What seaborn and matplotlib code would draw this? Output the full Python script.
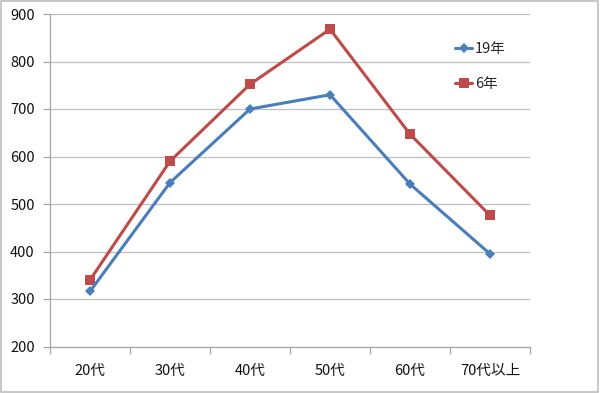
import matplotlib
matplotlib.use("Agg")
import matplotlib.pyplot as plt
import seaborn as sns
import pandas as pd
from matplotlib.lines import Line2D
from matplotlib.patches import Rectangle
from matplotlib.ticker import FixedLocator

categories = ["20代", "30代", "40代", "50代", "60代", "70代以上"]
series_19 = [316, 545, 700, 730, 542, 395]
series_6 = [340, 590, 752, 868, 647, 476]
series_names = ["19年", "6年"]
yticks = [200, 300, 400, 500, 600, 700, 800, 900]

sns.set_theme(style="white")
plt.rcParams['font.family'] = ['Noto Sans CJK JP', 'DejaVu Sans']

df = pd.DataFrame({
    "cat": categories * 2,
    "value": series_19 + series_6,
    "series": [series_names[0]] * len(categories) + [series_names[1]] * len(categories),
})

blue = "#4A7EBB"
red = "#BE4B48"
palette = {series_names[0]: blue, series_names[1]: red}

fig = plt.figure(figsize=(6.0, 3.93), dpi=100)
ax = fig.add_axes([50/600, 1 - 346.5/393, 480/600, (346.5-14)/393])

for name, marker, ms in [(series_names[1], "s", 7.5), (series_names[0], "D", 5.5)]:
    sub = df[df["series"] == name]
    sns.lineplot(data=sub, x="cat", y="value", color=palette[name], marker=marker,
                 markersize=ms, markeredgewidth=0, linewidth=2.2, ax=ax,
                 sort=False, legend=False)

ax.set_xlim(-0.5, len(categories) - 0.5)
ax.set_ylim(200, 900)
ax.set_yticks(yticks)
ax.set_xticks(range(len(categories)))
ax.set_xticklabels(categories)
ax.xaxis.set_minor_locator(FixedLocator([i + 0.5 for i in range(-1, len(categories))]))
ax.set_xlabel("")
ax.set_ylabel("")

ax.grid(axis="y", color="#BFBFBF", linewidth=0.9)
ax.grid(axis="x", visible=False)
ax.set_axisbelow(True)
for side in ["top", "right"]:
    ax.spines[side].set_visible(False)
for side in ["left", "bottom"]:
    ax.spines[side].set_color("#A6A6A6")
    ax.spines[side].set_linewidth(0.9)

ax.tick_params(axis="y", which="major", length=5, width=0.9, color="#A6A6A6",
               labelsize=10.5, pad=6, left=True, labelcolor="#111111")
ax.tick_params(axis="x", which="major", length=0, labelsize=10.5, pad=12.5, labelcolor="#111111")
ax.tick_params(axis="x", which="minor", length=5, width=0.9, color="#A6A6A6", bottom=True)

handles = [
    Line2D([0], [0], color=blue, marker="D", markersize=5, markeredgewidth=0, linewidth=2.2),
    Line2D([0], [0], color=red, marker="s", markersize=7, markeredgewidth=0, linewidth=2.2),
]
leg = fig.legend(handles, series_names, loc="upper left", bbox_to_anchor=(449/600, 1 - 36/393),
                 frameon=False, fontsize=10.5, handlelength=1.2, handletextpad=0.2,
                 labelspacing=1.45, borderaxespad=0)

fig.patches.append(Rectangle((0.002, 0.003), 0.995, 0.994, transform=fig.transFigure,
                             fill=False, edgecolor="#BDBDBD", linewidth=1.2))

fig.savefig("out.png", dpi=100)
